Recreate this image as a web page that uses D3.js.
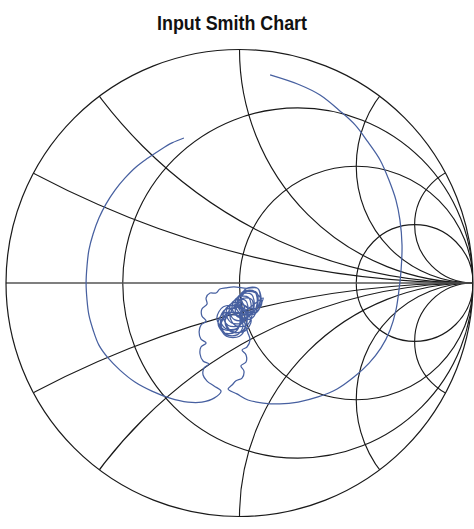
<!DOCTYPE html>
<html>
<head>
<meta charset="utf-8">
<script src="https://cdn.jsdelivr.net/npm/d3@7"></script>
<style>
  html, body { margin: 0; padding: 0; background: #ffffff; }
  svg { display: block; }
</style>
</head>
<body>
<svg id="chart" width="474" height="529"></svg>
<script>
// ---- chart content ----
const chartTitle = "Input Smith Chart";

// constant-resistance circles (normalised r) and constant-reactance arcs (normalised x)
const resistanceCircles = [1 / 3, 1, 3];
const reactanceArcs = [0.25, 0.5, 1, 2, 4, -0.25, -0.5, -1, -2, -4];

// input reflection coefficient samples [re, im], in sweep order
const sweepLeft = [
  [-0.238, 0.621], [-0.289, 0.600], [-0.340, 0.570], [-0.392, 0.535], [-0.443, 0.497],
  [-0.490, 0.450], [-0.533, 0.398], [-0.572, 0.338], [-0.602, 0.278], [-0.627, 0.210],
  [-0.645, 0.141], [-0.653, 0.073], [-0.657, 0.000], [-0.653, -0.073], [-0.645, -0.137],
  [-0.627, -0.201], [-0.602, -0.266], [-0.563, -0.321], [-0.512, -0.373], [-0.448, -0.424],
  [-0.375, -0.463], [-0.298, -0.493], [-0.221, -0.510], [-0.161, -0.510], [-0.109, -0.493]
];

const rippleLeft = [
  [-0.079, -0.463], [-0.109, -0.441], [-0.139, -0.420], [-0.156, -0.394], [-0.152, -0.364],
  [-0.131, -0.347], [-0.156, -0.334], [-0.169, -0.304], [-0.165, -0.274], [-0.143, -0.257],
  [-0.165, -0.240], [-0.173, -0.210], [-0.165, -0.180], [-0.143, -0.163], [-0.161, -0.141],
  [-0.161, -0.111], [-0.139, -0.090], [-0.143, -0.064], [-0.126, -0.043], [-0.101, -0.043],
  [-0.084, -0.026], [-0.058, -0.021], [-0.024, -0.017]
];

const resonanceLoops = [
  [0.030, -0.023], [0.078, -0.023],
  [0.092, -0.086], [0.067, -0.131], [0.015, -0.131], [-0.010, -0.086], [0.015, -0.041], [0.067, -0.041],
  [0.096, -0.081], [0.073, -0.122], [0.025, -0.122], [0.002, -0.081], [0.025, -0.040], [0.073, -0.040],
  [0.075, -0.111], [0.052, -0.152], [0.004, -0.152], [-0.019, -0.111], [0.004, -0.070], [0.052, -0.070],
  [0.053, -0.141], [0.030, -0.182], [-0.018, -0.182], [-0.041, -0.141], [-0.018, -0.100], [0.030, -0.100],
  [0.032, -0.167], [0.009, -0.208], [-0.039, -0.208], [-0.062, -0.167], [-0.039, -0.126], [0.009, -0.126],
  [0.101, -0.064], [0.078, -0.105], [0.030, -0.105], [0.007, -0.064], [0.030, -0.023], [0.078, -0.023],
  [0.088, -0.077], [0.065, -0.118], [0.017, -0.118], [-0.006, -0.077], [0.017, -0.036], [0.065, -0.036],
  [0.075, -0.090], [0.052, -0.131], [0.004, -0.131], [-0.019, -0.090], [0.004, -0.049], [0.052, -0.049],
  [0.062, -0.103], [0.039, -0.144], [-0.009, -0.144], [-0.032, -0.103], [-0.009, -0.062], [0.039, -0.062],
  [0.049, -0.116], [0.026, -0.157], [-0.022, -0.157], [-0.045, -0.116], [-0.022, -0.075], [0.026, -0.075],
  [0.036, -0.129], [0.013, -0.170], [-0.035, -0.170], [-0.058, -0.129], [-0.035, -0.088], [0.013, -0.088],
  [0.023, -0.141], [0.000, -0.182], [-0.048, -0.182], [-0.071, -0.141], [-0.048, -0.100], [0.000, -0.100],
  [0.011, -0.154], [-0.012, -0.195], [-0.060, -0.195], [-0.083, -0.154], [-0.060, -0.113], [-0.012, -0.113],
  [0.002, -0.171], [-0.021, -0.212], [-0.069, -0.212], [-0.092, -0.171], [-0.069, -0.130], [-0.021, -0.130],
  [0.015, -0.180], [-0.008, -0.221], [-0.056, -0.221], [-0.079, -0.180], [-0.056, -0.139], [-0.008, -0.139],
  [0.015, -0.150], [-0.013, -0.198], [-0.069, -0.198], [-0.097, -0.150], [-0.069, -0.102], [-0.013, -0.102],
  [0.050, -0.158], [0.022, -0.206], [-0.034, -0.206], [-0.062, -0.158], [-0.034, -0.110], [0.022, -0.110],
  [0.028, -0.180], [0.000, -0.228], [-0.056, -0.228], [-0.084, -0.180], [-0.056, -0.132], [0.000, -0.132]
];

const rippleRight = [
  [0.036, -0.214], [0.045, -0.244], [0.032, -0.274], [0.011, -0.287], [0.028, -0.308],
  [0.028, -0.338], [0.006, -0.355], [0.019, -0.377], [0.011, -0.407], [-0.015, -0.419],
  [-0.032, -0.437], [-0.049, -0.454]
];

const sweepRight = [
  [-0.011, -0.475], [0.036, -0.501], [0.101, -0.514], [0.173, -0.518], [0.251, -0.510],
  [0.336, -0.488], [0.418, -0.454], [0.490, -0.403], [0.555, -0.343], [0.606, -0.278],
  [0.645, -0.201], [0.670, -0.116], [0.683, -0.030], [0.692, 0.056], [0.696, 0.163],
  [0.687, 0.270], [0.670, 0.355], [0.640, 0.441], [0.602, 0.527], [0.550, 0.604],
  [0.495, 0.677], [0.430, 0.737], [0.345, 0.805], [0.259, 0.848], [0.131, 0.891]
];

// ---- layout ----
const width = 474, height = 529;
const centerX = 239.5, centerY = 283, radius = 233.5;

const svg = d3.select("#chart");
svg.append("rect").attr("width", width).attr("height", height).attr("fill", "#ffffff");

// Gamma plane -> pixels
const xScale = d3.scaleLinear().domain([-1, 1]).range([centerX - radius, centerX + radius]);
const yScale = d3.scaleLinear().domain([-1, 1]).range([centerY + radius, centerY - radius]);
const lenScale = d3.scaleLinear().domain([0, 1]).range([0, radius]);

svg.append("text")
  .attr("x", 232)
  .attr("y", 30)
  .attr("text-anchor", "middle")
  .attr("font-family", "'Liberation Sans Narrow', 'Arial Narrow', 'Liberation Sans', Arial, sans-serif")
  .attr("font-weight", "bold")
  .attr("font-size", 21)
  .attr("textLength", 150)
  .attr("lengthAdjust", "spacingAndGlyphs")
  .attr("fill", "#111111")
  .text(chartTitle);

const defs = svg.append("defs");
defs.append("clipPath").attr("id", "unit-disc")
  .append("circle")
  .attr("cx", xScale(0)).attr("cy", yScale(0)).attr("r", lenScale(1));

const gridColor = "#1a1a1a";
const grid = svg.append("g")
  .attr("clip-path", "url(#unit-disc)")
  .attr("fill", "none")
  .attr("stroke", gridColor)
  .attr("stroke-width", 1.15);

grid.selectAll("circle.res")
  .data(resistanceCircles)
  .join("circle")
  .attr("class", "res")
  .attr("cx", r => xScale(r / (1 + r)))
  .attr("cy", yScale(0))
  .attr("r", r => lenScale(1 / (1 + r)));

grid.selectAll("circle.react")
  .data(reactanceArcs)
  .join("circle")
  .attr("class", "react")
  .attr("cx", xScale(1))
  .attr("cy", x => yScale(1 / x))
  .attr("r", x => lenScale(1 / Math.abs(x)));

// real axis
svg.append("line")
  .attr("x1", xScale(-1)).attr("x2", xScale(1))
  .attr("y1", yScale(0)).attr("y2", yScale(0))
  .attr("stroke", "#555555")
  .attr("stroke-width", 1.5);

// outer |Gamma| = 1 boundary
svg.append("circle")
  .attr("cx", xScale(0)).attr("cy", yScale(0)).attr("r", lenScale(1))
  .attr("fill", "none")
  .attr("stroke", gridColor)
  .attr("stroke-width", 1.2);

// measured trace
const trace = [].concat(sweepLeft, rippleLeft, resonanceLoops, rippleRight, sweepRight);
const line = d3.line()
  .x(d => xScale(d[0]))
  .y(d => yScale(d[1]))
  .curve(d3.curveCatmullRom.alpha(0.5));

svg.append("path")
  .datum(trace)
  .attr("d", line)
  .attr("fill", "none")
  .attr("stroke", "#4760a0")
  .attr("stroke-width", 1.25)
  .attr("stroke-linejoin", "round");
</script>
</body>
</html>
